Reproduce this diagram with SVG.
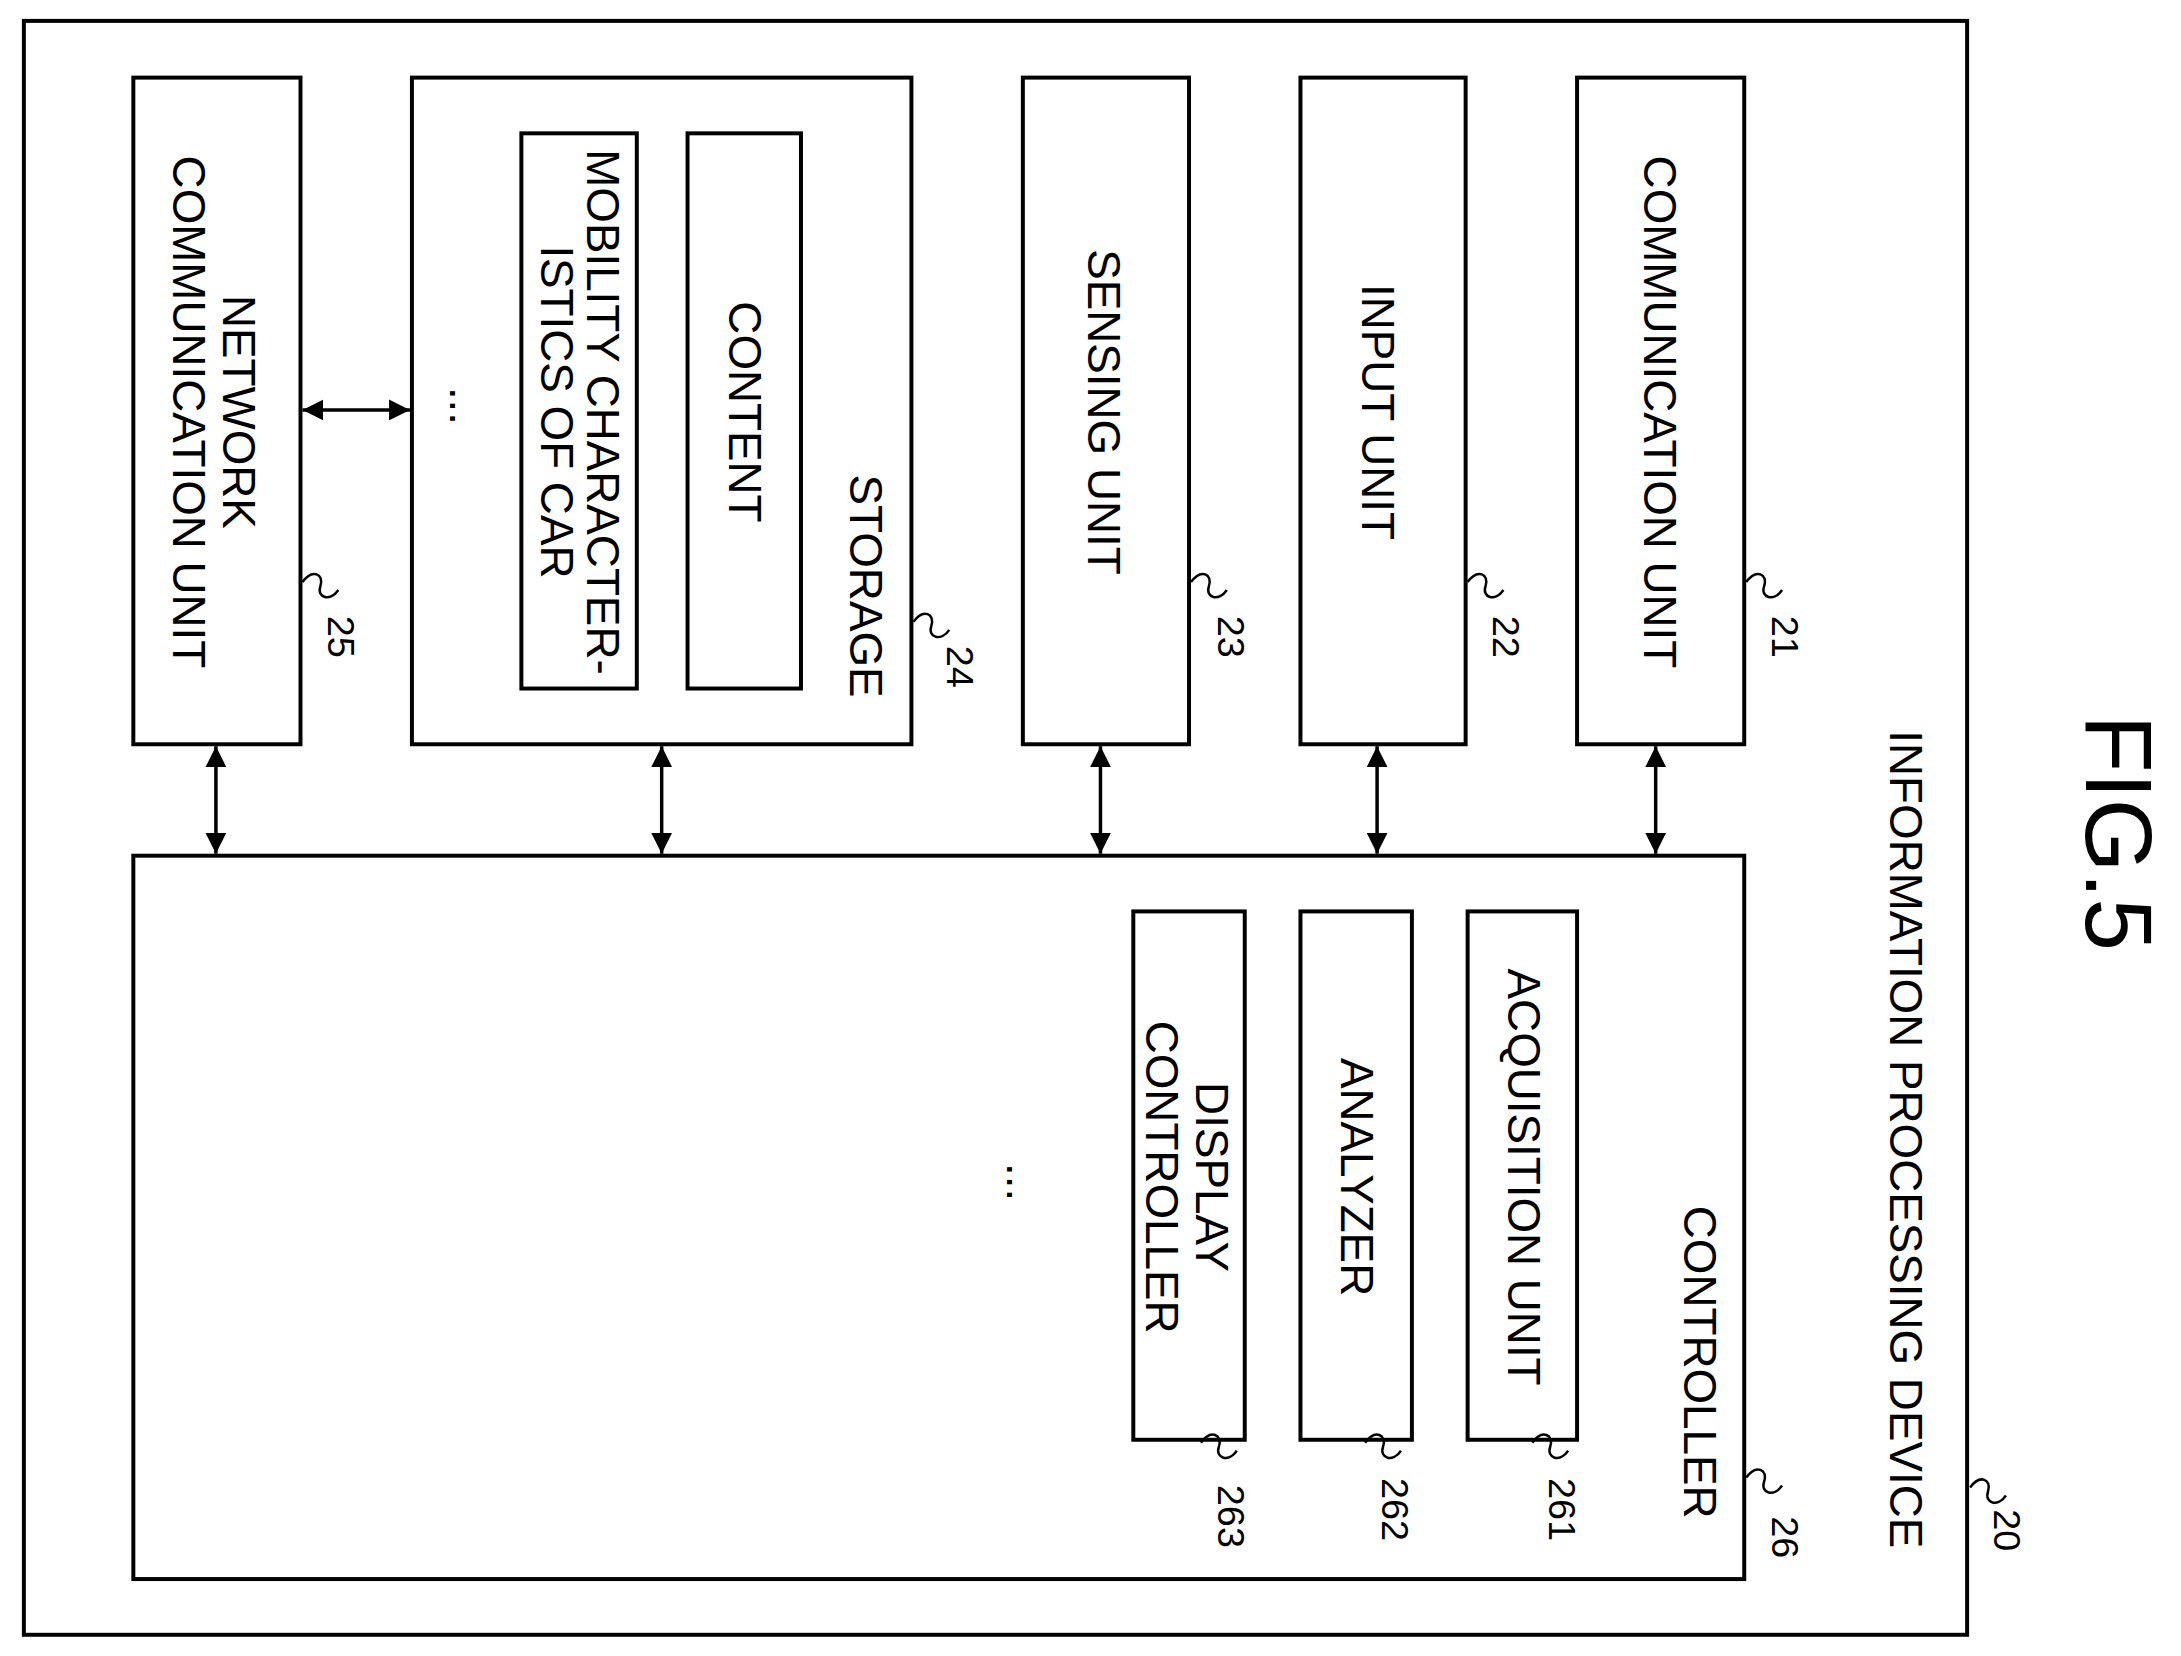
<svg xmlns="http://www.w3.org/2000/svg" width="2181" height="1656" viewBox="0 0 2181 1656">
<style>
.b{fill:none;stroke:#000;stroke-width:4}
.t{font-family:"Liberation Sans",Arial,sans-serif;font-size:46px;fill:#000;text-anchor:middle;dominant-baseline:central}
.n{font-family:"Liberation Sans",Arial,sans-serif;font-size:38px;fill:#000;text-anchor:middle;dominant-baseline:central}
.c{fill:none;stroke:#000;stroke-width:3.5}
.l{fill:none;stroke:#000;stroke-width:2.5}
</style>
<defs>
<marker id="a" viewBox="0 0 10 10" refX="10" refY="5" markerWidth="6" markerHeight="6" orient="auto-start-reverse" markerUnits="strokeWidth"><path d="M0,0 L10,5 L0,10 Z" fill="#000"/></marker>
</defs>
<rect width="2181" height="1656" fill="#fff"/>
<g transform="scale(0.995)">
<text class="t" style="font-size:95px" transform="translate(2130,837) rotate(90)">FIG.5</text>
<g id="device"><rect class="b" x="24" y="21" width="1953" height="1622"/>
<text class="t" transform="translate(1915,1145) rotate(90)">INFORMATION PROCESSING DEVICE</text>
<path class="l" d="M1980,1495 c10,-14 22,-8 18,4 c-4,12 10,16 18,4"/><text class="n" transform="translate(2017,1538) rotate(90)">20</text></g>
<g id="net"><rect class="b" x="134" y="78" width="168" height="670"/>
<text class="t" transform="translate(240,414) rotate(90)">NETWORK</text>
<text class="t" transform="translate(189,414) rotate(90)">COMMUNICATION UNIT</text>
<path class="l" d="M304,585 c10,-14 22,-8 18,4 c-4,12 10,16 18,4"/><text class="n" transform="translate(343,640) rotate(90)">25</text></g>
<g id="storage"><rect class="b" x="414" y="78" width="502" height="670"/>
<text class="t" transform="translate(870,589) rotate(90)">STORAGE</text>
<text class="t" transform="translate(468,408) rotate(90)">...</text>
<path class="l" d="M918,625 c10,-14 22,-8 18,4 c-4,12 10,16 18,4"/><text class="n" transform="translate(965,670) rotate(90)">24</text></g>
<g id="mobility"><rect class="b" x="524" y="134" width="116" height="558"/>
<text class="t" transform="translate(606,414) rotate(90)">MOBILITY CHARACTER-</text>
<text class="t" transform="translate(559,414) rotate(90)">ISTICS OF CAR</text></g>
<g id="content"><rect class="b" x="691" y="134" width="114" height="558"/>
<text class="t" transform="translate(748,414) rotate(90)">CONTENT</text></g>
<g id="sensing"><rect class="b" x="1028" y="78" width="167" height="670"/>
<text class="t" transform="translate(1109,414) rotate(90)">SENSING UNIT</text>
<path class="l" d="M1197,585 c10,-14 22,-8 18,4 c-4,12 10,16 18,4"/><text class="n" transform="translate(1237,640) rotate(90)">23</text></g>
<g id="input"><rect class="b" x="1307" y="78" width="166" height="670"/>
<text class="t" transform="translate(1384,414) rotate(90)">INPUT UNIT</text>
<path class="l" d="M1475,585 c10,-14 22,-8 18,4 c-4,12 10,16 18,4"/><text class="n" transform="translate(1514,640) rotate(90)">22</text></g>
<g id="comm"><rect class="b" x="1585" y="78" width="168" height="670"/>
<text class="t" transform="translate(1668,414) rotate(90)">COMMUNICATION UNIT</text>
<path class="l" d="M1755,585 c10,-14 22,-8 18,4 c-4,12 10,16 18,4"/><text class="n" transform="translate(1794,640) rotate(90)">21</text></g>
<g id="controller"><rect class="b" x="134" y="860" width="1619" height="727"/>
<text class="t" transform="translate(1708,1369) rotate(90)">CONTROLLER</text>
<text class="t" transform="translate(1028,1188) rotate(90)">...</text>
<path class="l" d="M1755,1485 c10,-14 22,-8 18,4 c-4,12 10,16 18,4"/><text class="n" transform="translate(1794,1545) rotate(90)">26</text></g>
<g id="acq"><rect class="b" x="1475" y="916" width="110" height="531"/>
<text class="t" transform="translate(1531,1183) rotate(90)">ACQUISITION UNIT</text>
<path class="l" d="M1540,1450 c10,-14 22,-8 18,4 c-4,12 10,16 18,4"/><text class="n" transform="translate(1570,1517) rotate(90)">261</text></g>
<g id="analyzer"><rect class="b" x="1307" y="916" width="112" height="531"/>
<text class="t" transform="translate(1363,1183) rotate(90)">ANALYZER</text>
<path class="l" d="M1372,1450 c10,-14 22,-8 18,4 c-4,12 10,16 18,4"/><text class="n" transform="translate(1402,1517) rotate(90)">262</text></g>
<g id="display"><rect class="b" x="1139" y="916" width="112" height="531"/>
<text class="t" transform="translate(1218,1183) rotate(90)">DISPLAY</text>
<text class="t" transform="translate(1167,1183) rotate(90)">CONTROLLER</text>
<path class="l" d="M1207,1450 c10,-14 22,-8 18,4 c-4,12 10,16 18,4"/><text class="n" transform="translate(1237,1524) rotate(90)">263</text></g>
<g id="connectors">
<line class="c" x1="217" y1="750" x2="217" y2="858" marker-start="url(#a)" marker-end="url(#a)"/>
<line class="c" x1="665" y1="750" x2="665" y2="858" marker-start="url(#a)" marker-end="url(#a)"/>
<line class="c" x1="1106" y1="750" x2="1106" y2="858" marker-start="url(#a)" marker-end="url(#a)"/>
<line class="c" x1="1384" y1="750" x2="1384" y2="858" marker-start="url(#a)" marker-end="url(#a)"/>
<line class="c" x1="1664" y1="750" x2="1664" y2="858" marker-start="url(#a)" marker-end="url(#a)"/>
<line class="c" x1="304" y1="412" x2="412" y2="412" marker-start="url(#a)" marker-end="url(#a)"/>
</g>
</g>
</svg>
